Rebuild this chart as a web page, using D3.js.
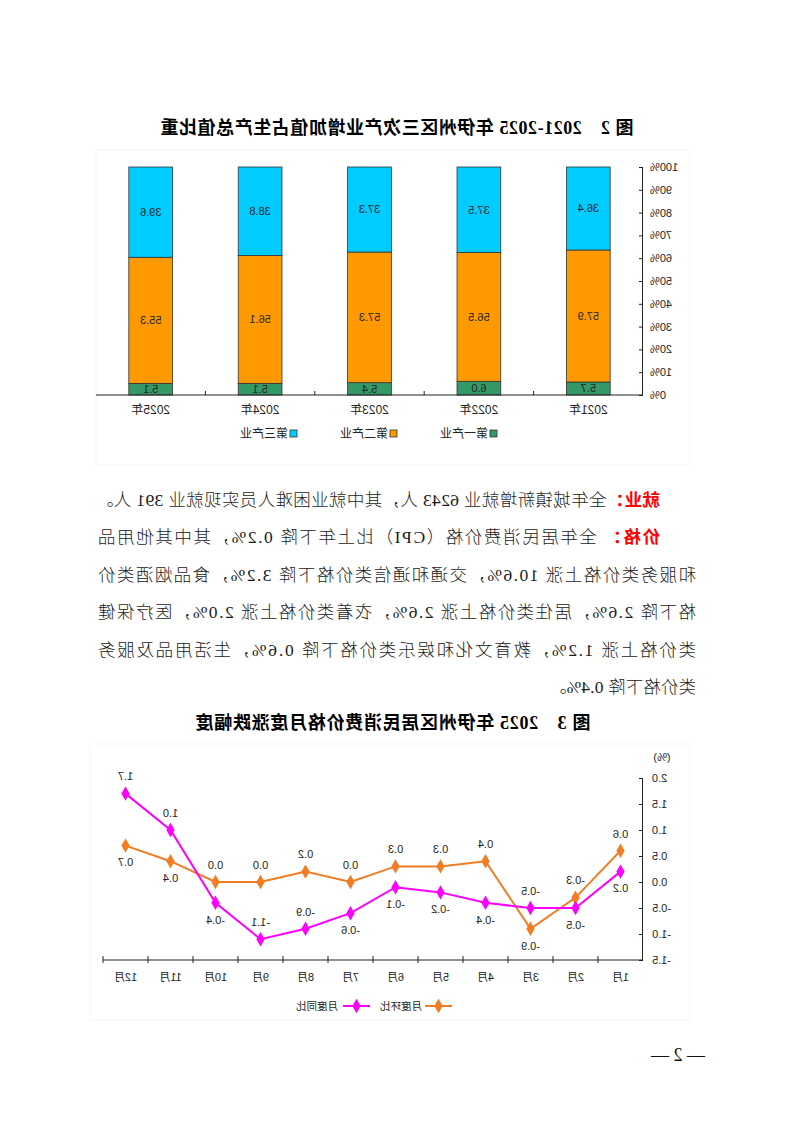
<!DOCTYPE html>
<html><head><meta charset="utf-8">
<script src="https://cdn.jsdelivr.net/npm/d3@7"></script>
<style>html,body{margin:0;padding:0;background:#fff}svg{display:block}</style>
</head><body><svg id="page" width="793" height="1122"></svg>
<script>
// ---------- Data: Figure 2 ----------
const years = ['2021年','2022年','2023年','2024年','2025年'];
const primaryShare = [5.7, 6.0, 5.4, 5.1, 5.1];
const secondaryShare = [57.9, 56.5, 57.3, 56.1, 55.3];
const tertiaryShare = [36.4, 37.5, 37.3, 38.8, 39.6];
const industryNames = ['第一产业','第二产业','第三产业'];
const industryColors = ['#339966','#ff9900','#00ccff'];
const pctTicks = [0,10,20,30,40,50,60,70,80,90,100];

// ---------- Data: Figure 3 ----------
const months = ['1月','2月','3月','4月','5月','6月','7月','8月','9月','10月','11月','12月'];
const momChange = [0.6, -0.3, -0.9, 0.4, 0.3, 0.3, 0.0, 0.2, 0.0, 0.0, 0.4, 0.7];   // 月度环比
const yoyChange = [0.2, -0.5, -0.5, -0.4, -0.2, -0.1, -0.6, -0.9, -1.1, -0.4, 1.0, 1.7]; // 月度同比
const cpiTicks = [-1.5,-1.0,-0.5,0.0,0.5,1.0,1.5,2.0];
const seriesNames = ['月度环比','月度同比'];
const seriesColors = ['#f07d23','#ff00ff'];

const SERIF = "'Liberation Serif','Noto Sans CJK SC',serif";
const SANS = "'Liberation Sans','Noto Sans CJK SC',sans-serif";

const svg = d3.select('#page');
// the reference page is a horizontally mirrored scan
const root = svg.append('g').attr('transform','translate(793,0) scale(-1,1)');

// ================= Figure 2 =================
root.append('text').attr('x',396).attr('y',128).attr('dy','0.35em')
  .attr('text-anchor','middle').attr('font-family',SERIF).attr('font-weight','bold')
  .attr('font-size',18).attr('textLength',473).attr('lengthAdjust','spacing')
  .text('图 2　2021-2025 年伊州区三次产业增加值占生产总值比重');

root.append('rect').attr('x',103).attr('y',150).attr('width',594).attr('height',315)
  .attr('fill','none').attr('stroke','#f6f6f6');

const x1 = d3.scaleBand().domain(years).range([150,697]).paddingInner(0.6).paddingOuter(0.3);
const y1 = d3.scaleLinear().domain([0,100]).range([395,167]);

const table1 = years.map((y,i)=>({year:y, p:primaryShare[i], s:secondaryShare[i], t:tertiaryShare[i]}));
const stack1 = d3.stack().keys(['p','s','t'])(table1);

const g1 = root.append('g');
stack1.forEach((layer,li)=>{
  g1.append('g').selectAll('rect').data(layer).join('rect')
    .attr('x',d=>x1(d.data.year)).attr('width',x1.bandwidth())
    .attr('y',d=>y1(d[1])).attr('height',d=>y1(d[0])-y1(d[1]))
    .attr('fill',industryColors[li]).attr('stroke','#333').attr('stroke-width',0.8);
  g1.append('g').selectAll('text').data(layer).join('text')
    .attr('x',d=>x1(d.data.year)+x1.bandwidth()/2)
    .attr('y',d=>(y1(d[0])+y1(d[1]))/2)
    .attr('dy','0.35em').attr('text-anchor','middle').attr('font-family',SANS)
    .attr('font-size',11).attr('fill','#222')
    .text(d=>(d[1]-d[0]).toFixed(1));
});

const yAxis1 = d3.axisLeft(y1).tickValues(pctTicks).tickFormat(d=>d+'%')
  .tickSizeInner(-4).tickSizeOuter(0).tickPadding(7);
const ya1 = root.append('g').attr('transform','translate(150,0)').call(yAxis1);
ya1.selectAll('text').attr('font-family',SANS).attr('font-size',11).attr('fill','#222');
ya1.selectAll('line,path').attr('stroke','#222');

const xa1 = root.append('g');
xa1.append('line').attr('x1',150).attr('x2',697).attr('y1',395).attr('y2',395).attr('stroke','#222');
xa1.selectAll('line.tk').data(years.slice(1)).join('line').attr('class','tk')
  .attr('x1',d=>x1(d)-x1.step()*x1.paddingInner()/2).attr('x2',d=>x1(d)-x1.step()*x1.paddingInner()/2)
  .attr('y1',395).attr('y2',391).attr('stroke','#222');
xa1.selectAll('text').data(years).join('text')
  .attr('x',d=>x1(d)+x1.bandwidth()/2).attr('y',410).attr('dy','0.35em')
  .attr('text-anchor','middle').attr('font-family',SANS).attr('font-size',12).attr('fill','#222')
  .text(d=>d);

const lg1 = root.append('g');
industryNames.forEach((n,i)=>{
  const lx = 296 + i*100;
  lg1.append('rect').attr('x',lx).attr('y',430).attr('width',7).attr('height',7)
    .attr('fill',industryColors[i]).attr('stroke','#333').attr('stroke-width',0.8);
  lg1.append('text').attr('x',lx+9).attr('y',433.5).attr('dy','0.35em')
    .attr('font-family',SANS).attr('font-size',12).attr('fill','#222').text(n);
});

// ================= Paragraph =================
const para = root.append('g').attr('font-family',SERIF).attr('font-size',17.5)
  .attr('font-weight',300).attr('fill','#1a1a1a');
function pline(y, x, len, parts){
  const t = para.append('text').attr('x',x).attr('y',y).attr('dy','0.36em');
  if(len) t.attr('textLength',len).attr('lengthAdjust','spacing');
  parts.forEach(p=>{
    const s = t.append('tspan').text(p[0]);
    if(p[1]) s.attr('fill','#ff0000').attr('font-weight','bold');
  });
}
pline(500,133,564,[['就业：',1],['全年城镇新增就业 6243 人，其中就业困难人员实现就业 391 人。']]);
pline(537,133,562,[['价格：',1],[' 全年居民消费价格（CPI）比上年下降 0.2%，其中其他用品']]);
pline(575,97,598,[['和服务类价格上涨 10.6%，交通和通信类价格下降 3.2%，食品烟酒类价']]);
pline(612,97,598,[['格下降 2.6%，居住类价格上涨 2.6%，衣着类价格上涨 2.0%，医疗保健']]);
pline(650,97,598,[['类价格上涨 1.2%，教育文化和娱乐类价格下降 0.6%，生活用品及服务']]);
pline(687,97,147,[['类价格下降 0.4%。']]);

// ================= Figure 3 =================
root.append('text').attr('x',400).attr('y',723).attr('dy','0.35em')
  .attr('text-anchor','middle').attr('font-family',SERIF).attr('font-weight','bold')
  .attr('font-size',18).attr('textLength',395).attr('lengthAdjust','spacing')
  .text('图 3　2025 年伊州区居民消费价格月度涨跌幅度');

root.append('rect').attr('x',103).attr('y',744).attr('width',600).attr('height',276)
  .attr('fill','none').attr('stroke','#f6f6f6');

const x2 = d3.scaleBand().domain(months).range([150,690]).padding(0);
const y2 = d3.scaleLinear().domain([-1.5,2.0]).range([960,778]);
const cx = m => x2(m)+x2.bandwidth()/2;

const yAxis2 = d3.axisLeft(y2).tickValues(cpiTicks).tickFormat(d=>d.toFixed(1))
  .tickSizeInner(-4).tickSizeOuter(0).tickPadding(9);
const ya2 = root.append('g').attr('transform','translate(150,0)').call(yAxis2);
ya2.selectAll('text').attr('font-family',SANS).attr('font-size',11).attr('fill','#222');
ya2.selectAll('line,path').attr('stroke','#222');
root.append('text').attr('x',131).attr('y',757).attr('dy','0.35em').attr('text-anchor','middle')
  .attr('font-family',SANS).attr('font-size',11).attr('fill','#222').text('(%)');

const xa2 = root.append('g');
xa2.append('line').attr('x1',150).attr('x2',690).attr('y1',960).attr('y2',960).attr('stroke','#222');
xa2.selectAll('line.tk').data(months).join('line').attr('class','tk')
  .attr('x1',d=>x2(d)+x2.step()).attr('x2',d=>x2(d)+x2.step())
  .attr('y1',963).attr('y2',956).attr('stroke','#222');
xa2.selectAll('text').data(months).join('text')
  .attr('x',d=>cx(d)).attr('y',977).attr('dy','0.35em').attr('text-anchor','middle')
  .attr('font-family',SANS).attr('font-size',11).attr('fill','#222').text(d=>d);

const lineGen = d3.line().x((d,i)=>cx(months[i])).y(d=>y2(d));
const diamond = d3.symbol().type(d3.symbolDiamond).size(60);
[momChange, yoyChange].forEach((vals,si)=>{
  const other = si===0 ? yoyChange : momChange;
  const g = root.append('g');
  g.append('path').attr('d',lineGen(vals)).attr('fill','none')
    .attr('stroke',seriesColors[si]).attr('stroke-width',2);
  g.selectAll('path.m').data(vals).join('path').attr('class','m')
    .attr('transform',(d,i)=>`translate(${cx(months[i])},${y2(d)})`)
    .attr('d',diamond).attr('fill',seriesColors[si]);
  g.selectAll('text').data(vals).join('text')
    .attr('x',(d,i)=>cx(months[i]))
    .attr('y',(d,i)=>{
      const above = d >= other[i] || (si===1 && d < -0.8);
      return y2(d) + (above ? -17 : 17);
    })
    .attr('dy','0.35em').attr('text-anchor','middle').attr('font-family',SANS)
    .attr('font-size',11).attr('fill','#222').text(d=>d.toFixed(1));
});

const lg2 = root.append('g');
[[341,371],[423,455]].forEach((p,i)=>{
  lg2.append('line').attr('x1',p[0]).attr('x2',p[0]+27).attr('y1',1006).attr('y2',1006)
    .attr('stroke',seriesColors[i]).attr('stroke-width',2);
  lg2.append('path').attr('transform',`translate(${p[0]+13.5},1006)`).attr('d',diamond)
    .attr('fill',seriesColors[i]);
  lg2.append('text').attr('x',p[1]).attr('y',1006).attr('dy','0.35em')
    .attr('font-family',SANS).attr('font-size',10.5).attr('fill','#222').text(seriesNames[i]);
});

// page number
root.append('text').attr('x',88).attr('y',1055).attr('dy','0.35em')
  .attr('font-family',SERIF).attr('font-size',18).attr('fill','#111').text('— 2 —');
</script></body></html>
